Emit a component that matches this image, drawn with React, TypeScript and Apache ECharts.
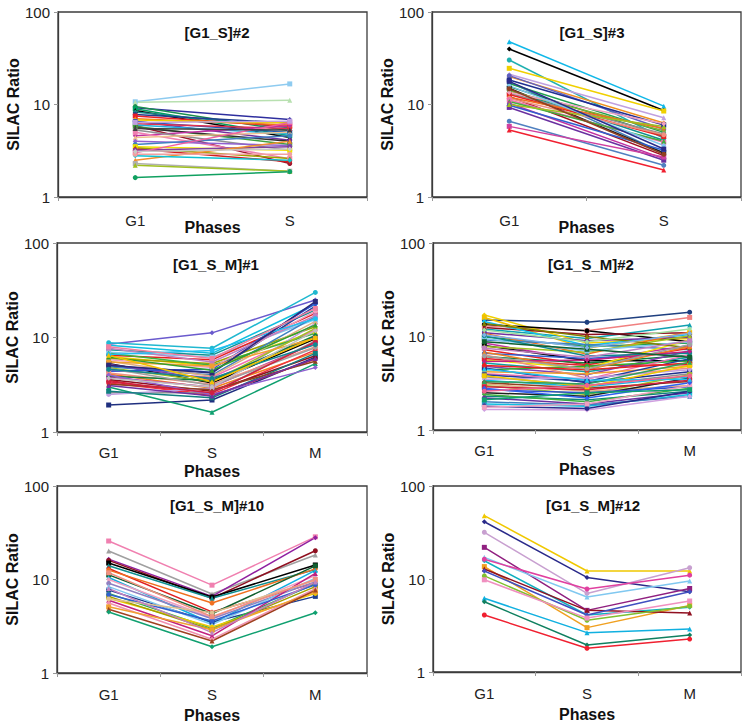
import { useEffect, useRef } from "react";
import * as echarts from "echarts";

// ---------- data ----------
const PHASES_GS = ["G1", "S"];
const PHASES_GSM = ["G1", "S", "M"];
const TITLES = ["[G1_S]#2", "[G1_S]#3", "[G1_S_M]#1", "[G1_S_M]#2", "[G1_S_M]#10", "[G1_S_M]#12"];
const Y_NAME = "SILAC Ratio";
const X_NAME = "Phases";

// [G1, S]
const g1s2 = [
  [10.7, 16.7], [10.6, 11.1], [9.2, 6.9], [9.5, 5.2], [9.0, 4.6], [8.6, 4.4], [8.3, 5.6], [7.8, 6.3],
  [7.5, 5.8], [7.0, 6.0], [6.8, 6.3], [6.6, 4.1], [6.5, 5.0], [6.2, 5.5], [6.0, 4.8], [5.9, 2.3],
  [5.8, 3.7], [5.6, 4.0], [4.6, 5.9], [5.3, 3.2], [5.0, 2.6], [4.4, 5.0], [4.0, 3.6], [3.7, 4.6],
  [3.5, 3.2], [3.4, 2.6], [3.3, 2.4], [3.2, 3.5], [3.0, 6.4], [2.5, 4.0], [2.8, 2.5], [2.9, 2.9],
  [2.3, 1.9], [2.2, 1.9], [3.1, 3.3], [1.62, 1.88], [6.4, 6.6], [5.5, 5.3],
];

const g1s3 = [
  [47.7, 9.6], [39.8, 8.6], [30.3, 4.3], [24.6, 8.5], [21.2, 7.2], [20.0, 6.3], [20.5, 5.4], [18.4, 6.0],
  [17.5, 3.0], [16.9, 5.0], [15.6, 4.6], [15.0, 3.0], [14.4, 4.1], [14.0, 5.2], [13.2, 4.8], [12.8, 4.5],
  [12.2, 2.8], [12.0, 5.5], [11.6, 4.7], [11.2, 3.9], [10.8, 4.0], [10.3, 2.6], [9.8, 3.2], [9.3, 2.5],
  [10.0, 5.8], [13.5, 6.2], [6.6, 2.2], [5.8, 2.7], [5.3, 1.96], [16.0, 3.6], [14.8, 2.9], [17.8, 3.3],
];

// [G1, S, M]
const g1sm1 = [
  [8.5, 11.2, 24.9], [8.8, 7.7, 30], [1.93, 2.18, 6.2], [3.0, 1.62, 5.3], [8.3, 6.8, 22.5], [7.4, 6.5, 19.5],
  [7.0, 6.2, 15.5], [6.3, 5.0, 11.5], [6.0, 5.3, 13.0], [6.5, 5.8, 18.0], [5.3, 3.3, 9.7], [5.0, 4.3, 21.5],
  [4.9, 4.0, 16.6], [4.5, 3.8, 12.0], [5.2, 3.6, 10.2], [4.1, 2.9, 7.0], [3.5, 2.4, 5.9], [3.3, 2.5, 7.4],
  [3.8, 3.0, 8.7], [3.6, 2.7, 6.4], [2.6, 2.6, 9.2], [2.5, 2.9, 14.1], [2.7, 2.3, 6.8], [6.8, 5.1, 11.1],
  [4.8, 3.4, 12.5], [4.4, 4.6, 23.0], [4.2, 3.2, 8.0], [5.6, 3.9, 14.8], [3.9, 3.5, 10.5], [5.8, 4.8, 19.0],
  [7.7, 5.5, 17.0], [3.2, 2.8, 5.6], [4.0, 2.5, 4.8], [6.6, 7.3, 15.8], [5.5, 5.0, 9.8], [3.1, 2.4, 6.0],
  [4.7, 3.1, 7.8], [3.4, 2.6, 9.0], [5.1, 4.2, 24.0], [6.2, 4.5, 13.6], [3.7, 3.0, 11.8], [4.6, 3.7, 8.4],
  [8.0, 6.0, 20.3], [6.5, 3.4, 10.0],
];

const g1sm2 = [
  [15.0, 14.2, 18.2], [13.0, 11.5, 16.0], [12.0, 9.5, 13.3], [17.0, 8.5, 9.5], [13.5, 11.5, 8.8], [16.0, 7.5, 11.0],
  [12.5, 10.5, 11.0], [14.5, 8.0, 10.5], [11.0, 9.0, 9.8], [9.9, 7.8, 8.5], [10.8, 6.5, 11.2], [9.2, 8.2, 7.2],
  [8.5, 5.5, 8.0], [8.0, 5.5, 5.5], [7.8, 6.8, 10.2], [7.2, 5.0, 7.5], [6.6, 5.8, 6.8], [9.5, 7.0, 8.8],
  [6.1, 5.2, 6.3], [5.6, 4.6, 9.2], [5.2, 4.2, 6.0], [5.8, 4.9, 5.0], [4.8, 3.9, 7.0], [6.4, 3.6, 4.6],
  [4.4, 4.8, 5.5], [4.6, 3.2, 4.2], [4.0, 3.5, 6.4], [4.2, 4.0, 4.8], [3.7, 3.0, 4.0], [3.9, 3.3, 5.8],
  [3.4, 2.9, 3.7], [3.5, 3.6, 4.4], [3.2, 2.8, 3.3], [3.0, 2.4, 3.9], [3.1, 2.6, 3.0], [2.5, 2.3, 3.6],
  [2.7, 2.5, 2.9], [2.9, 2.7, 3.4], [2.3, 2.1, 2.6], [2.4, 2.0, 2.8], [2.2, 1.9, 2.5], [1.9, 1.8, 2.4],
  [2.0, 1.85, 2.3], [1.66, 1.64, 2.3], [1.8, 1.7, 2.6], [1.75, 1.9, 3.0], [13.8, 10.0, 7.6], [11.7, 8.8, 12.0],
  [10.2, 6.2, 6.6], [7.5, 6.0, 9.0], [6.8, 4.4, 7.8], [5.4, 5.6, 6.9], [4.9, 4.4, 5.2], [3.8, 2.9, 4.9],
  [3.3, 3.1, 5.3], [2.8, 2.2, 3.2], [6.2, 4.5, 8.2], [8.8, 7.3, 6.0], [4.5, 3.4, 3.5], [10.4, 7.6, 10.8],
  [2.6, 3.0, 3.8], [2.1, 2.5, 2.7],
];

const g1sm10 = [
  [25.8, 8.7, 28.6], [20.2, 7.0, 18.3], [16.5, 6.6, 28.0], [16.0, 6.3, 20.3], [15.0, 6.5, 14.3], [14.0, 6.3, 12.8],
  [13.1, 4.5, 9.2], [12.6, 5.6, 13.0], [11.2, 4.3, 14.0], [10.5, 3.4, 12.5], [10.0, 3.9, 11.0], [9.1, 3.8, 9.5],
  [7.7, 3.5, 6.6], [8.4, 3.3, 10.3], [7.1, 3.0, 9.0], [6.3, 3.1, 7.1], [6.6, 2.9, 8.4], [6.0, 2.5, 11.6],
  [5.6, 2.3, 8.0], [6.9, 3.6, 8.8], [5.1, 2.9, 7.4], [4.8, 2.2, 7.7], [4.5, 1.91, 4.4], [6.2, 4.4, 9.8],
  [11.8, 4.0, 10.0], [8.0, 2.7, 9.4],
];

const g1sm12 = [
  [48, 12.2, 12.2], [41.3, 10.4, 7.3], [31.8, 7.0, 13.2], [21.9, 4.6, 7.9], [17.1, 6.4, 9.5], [15.7, 4.1, 4.97],
  [16.3, 7.8, 11.0], [13.6, 3.0, 5.2], [12.8, 4.6, 4.3], [12.2, 4.1, 7.3], [10.8, 3.6, 5.1], [9.8, 3.8, 5.8],
  [6.2, 2.65, 2.9], [5.7, 1.95, 2.5], [4.1, 1.8, 2.26],
];

// ---------- styles ----------
const PALETTE = [
  "#1f2f8f", "#f070b0", "#f0c800", "#10b8e8", "#7a1f8a", "#901020", "#108080", "#2040e0",
  "#10c0f0", "#a0e0e0", "#a0d8a0", "#e0e070", "#80b0e8", "#f0a0c0", "#b090e0", "#f0c090",
  "#3060f0", "#30c0c0", "#90c020", "#f0a000", "#f07020", "#606090", "#909090", "#103060",
  "#30a060", "#104010", "#505010", "#a04010", "#a03060", "#303090", "#303030", "#e82020",
  "#00a050", "#000000", "#c030a0", "#6a5acd",
];
const C1 = ["#8ecbf0", "#b8e0b0", "#2e2e9e", "#1a9050", "#00a060", "#000000", "#1a8a8a", "#1f3f8f", "#e8202a", "#f07020", "#f0d000", "#7030a0", "#2060c0", "#e03050", "#20b0e0", "#a01830", "#40a040", "#303030", "#c030a0", "#909090", "#f080b0", "#f0c090", "#9060d0", "#4080c0", "#f0e000", "#a0a000", "#d02020", "#8040a0", "#f060a0", "#f09030", "#10c0d0", "#f0a0a0", "#b0b0b0", "#a0c020", "#c8c8c8", "#10a060", "#c0a0e0", "#404040"];
const C2 = ["#10b8e8", "#000000", "#20b0b0", "#f0d000", "#c0a0e0", "#f09020", "#6060c0", "#1f2f8f", "#4080c0", "#20a050", "#10804a", "#202020", "#109090", "#80b030", "#909090", "#e82020", "#a01020", "#f07020", "#f09080", "#f070b0", "#40b040", "#c030a0", "#3060d0", "#6a30a0", "#a0c020", "#f0a0c0", "#5080c0", "#d040a0", "#f02030", "#80c8f0", "#904020", "#2a2a8a"];
const C3 = ["#6a5acd", "#20b8d0", "#1f2f7f", "#10a070", "#10c0e0", "#109090", "#80c8f0", "#f0d000", "#a0a000", "#e82020", "#000000", "#1f3f9f", "#4080c0", "#f070b0", "#8040b0", "#f08020", "#e02030", "#f03040", "#c030a0", "#901020", "#909090", "#c0a0e0", "#108080", "#40b040", "#a0c020", "#3050d0", "#f09080", "#e0b080", "#108040", "#f0a0c0", "#c080c0", "#904020", "#9060d0", "#20c0f0", "#f0a030", "#7030a0", "#a0a0a0", "#d02040", "#2a2a7a", "#30a030", "#c0c0c0", "#108890", "#f080a0", "#f0c000"];
const C4 = [
  "#1f3f7f", "#f08080", "#10a0b0", "#f0d000", "#000000", "#f0c000", "#901020", "#10c0f0",
  "#7030a0", "#20a050", "#f07020", "#4080c0", "#c030a0", "#000000", "#a0c020", "#e82020",
  "#3060d0", "#80c8f0", "#108040", "#f0e000", "#10a0a0", "#e02030", "#8040b0", "#f09080",
  "#30b030", "#1f2f8f", "#f070b0", "#f0a030", "#909090", "#2040a0", "#10b8e8", "#c0a0e0",
  "#904020", "#a0c020", "#e0b080", "#202020", "#3050d0", "#d02040", "#108080", "#40b040",
  "#6a30a0", "#10c0e0", "#4080c0", "#d0a0e0", "#2a2a8a", "#f0a0c0", "#808000", "#a0e0a0",
  "#108890", "#c080c0", "#f08020", "#c02080", "#e82020", "#f0c800", "#30a060", "#3060f0",
  "#a0a0a0", "#106030", "#20c0f0", "#80b0e8", "#f06090", "#10a070",
];
const C5 = ["#f080b0", "#a0a0a0", "#9020a0", "#901020", "#000000", "#109090", "#e02020", "#f07020", "#106030", "#10b0e0", "#f0a0c0", "#9080c0", "#1f3f8f", "#80c8f0", "#30b050", "#f0c800", "#a0a000", "#c02080", "#f090b0", "#3060d0", "#f0a030", "#a04020", "#10a070", "#e0c090", "#f09080", "#c080c0"];
const C6 = ["#f0c800", "#2a2a8a", "#c8a0d0", "#902080", "#80c8f0", "#10b0c0", "#e040a0", "#f0a020", "#901020", "#4050c0", "#80c030", "#f090c0", "#10b0e0", "#108060", "#f02030"];
const SYMBOLS = ["rect", "triangle", "diamond", "circle"];

const FONT = "'Liberation Sans', Arial, sans-serif";
const AXIS_COLOR = "#3c3c3c";

// layout of the six panels (page pixels)
const PANELS = [
  { left: 58, top: 12, width: 309, height: 185, cx: 212, tTop: 20, nameGap: 22, labelMargin: 16 },
  { left: 432, top: 12, width: 309, height: 185, cx: 587, tTop: 20, nameGap: 22, labelMargin: 16 },
  { left: 57, top: 243, width: 310, height: 189, cx: 211, tTop: 252, nameGap: 31, labelMargin: 13 },
  { left: 433, top: 243, width: 308, height: 187, cx: 586, tTop: 252, nameGap: 31, labelMargin: 13 },
  { left: 57, top: 486, width: 310, height: 187, cx: 212, tTop: 493, nameGap: 34, labelMargin: 14 },
  { left: 433, top: 486, width: 308, height: 186, cx: 588, tTop: 493, nameGap: 34, labelMargin: 14 },
];

const PANEL_DATA = [g1s2, g1s3, g1sm1, g1sm2, g1sm10, g1sm12];
const PANEL_CATS = [PHASES_GS, PHASES_GS, PHASES_GSM, PHASES_GSM, PHASES_GSM, PHASES_GSM];
const PANEL_COLORS = [C1, C2, C3, C4, C5, C6];

export default function App() {
  const ref = useRef<HTMLDivElement>(null);
  useEffect(() => {
    document.body.style.margin = "0";
    if (!ref.current) return;
    const chart = echarts.init(ref.current, null, { renderer: "svg" });

    const grid = PANELS.map((p) => ({
      left: p.left, top: p.top, width: p.width, height: p.height,
      show: true, borderColor: AXIS_COLOR, borderWidth: 1.3, backgroundColor: "#fff",
    }));
    const title = PANELS.map((p, i) => ({
      text: TITLES[i], left: p.cx, top: p.tTop, textAlign: "center",
      textStyle: { fontFamily: FONT, fontSize: 15, fontWeight: "bold", color: "#111" },
    }));
    const xAxis = PANELS.map((p, i) => ({
      type: "category", gridIndex: i, data: PANEL_CATS[i], boundaryGap: true,
      name: X_NAME, nameLocation: "middle", nameGap: p.nameGap, nameMoveOverlap: false,
      nameTextStyle: { fontFamily: FONT, fontSize: 16, fontWeight: "bold", color: "#111" },
      axisLine: { show: true, lineStyle: { color: AXIS_COLOR, width: 1.3 } },
      axisTick: { show: true, length: 4, lineStyle: { color: "#999" } },
      axisLabel: { fontFamily: FONT, fontSize: 15, color: "#222", margin: p.labelMargin },
      splitLine: { show: false },
    }));
    const yAxis = PANELS.map((p, i) => ({
      type: "log", logBase: 10, gridIndex: i, min: 1, max: 100,
      name: Y_NAME, nameLocation: "middle", nameGap: 37, nameMoveOverlap: false,
      nameTextStyle: { fontFamily: FONT, fontSize: 16, fontWeight: "bold", color: "#111" },
      axisLine: { show: true, lineStyle: { color: AXIS_COLOR, width: 1.3 } },
      axisTick: { show: true, length: 4, lineStyle: { color: "#999" } },
      minorTick: { show: false },
      axisLabel: { fontFamily: FONT, fontSize: 15, color: "#222", margin: 8 },
      splitLine: { show: false },
    }));
    const series: any[] = [];
    PANEL_DATA.forEach((rows, pi) => {
      const cols = PANEL_COLORS[pi];
      rows.forEach((row, ri) => {
        const color = cols[ri] ?? PALETTE[(ri * 7 + pi) % PALETTE.length];
        series.push({
          type: "line", xAxisIndex: pi, yAxisIndex: pi, data: row,
          symbol: SYMBOLS[(ri + pi) % SYMBOLS.length], symbolSize: 5, showSymbol: true,
          lineStyle: { color, width: 1.5 }, itemStyle: { color },
          emphasis: { disabled: true }, silent: true,
        });
      });
    });

    chart.setOption({
      animation: false,
      backgroundColor: "#fff",
      textStyle: { fontFamily: FONT },
      title, grid, xAxis, yAxis, series,
    });
    return () => chart.dispose();
  }, []);
  return <div ref={ref} style={{ width: 748, height: 725 }} />;
}
